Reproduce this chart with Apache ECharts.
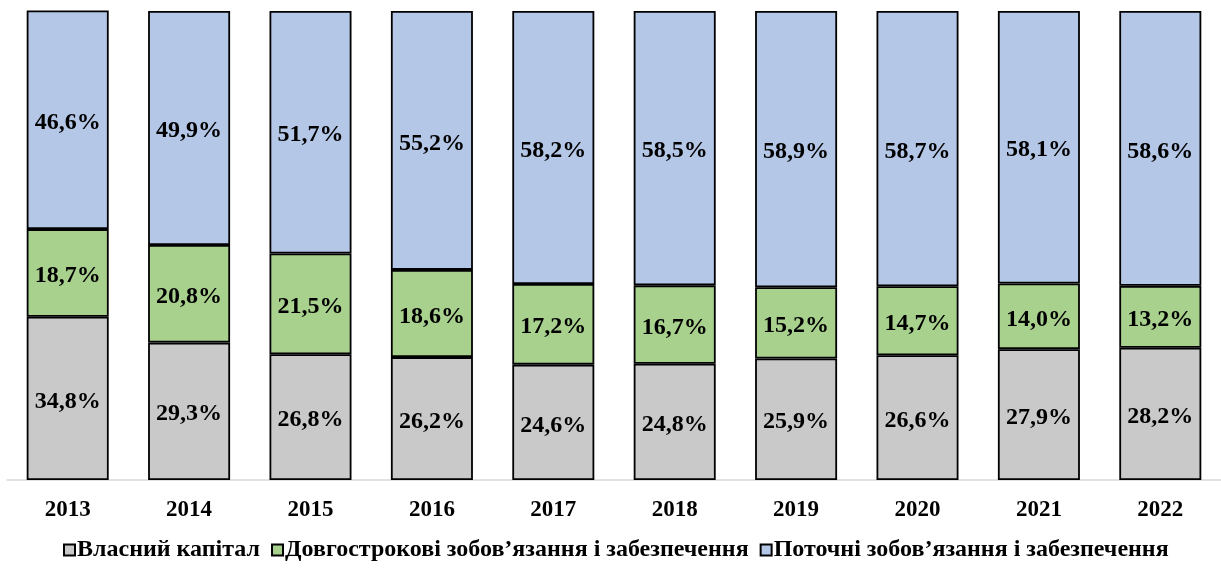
<!DOCTYPE html>
<html>
<head>
<meta charset="utf-8">
<script src="https://cdn.jsdelivr.net/npm/echarts@6/dist/echarts.min.js"></script>
<style>
  html, body { margin: 0; padding: 0; background: #fff; }
  #chart { width: 1221px; height: 573px; }
</style>
</head>
<body>
<div id="chart"></div>
<script>
var years = ['2013', '2014', '2015', '2016', '2017', '2018', '2019', '2020', '2021', '2022'];
var equity = [34.8, 29.3, 26.8, 26.2, 24.6, 24.8, 25.9, 26.6, 27.9, 28.2];
var longTerm = [18.7, 20.8, 21.5, 18.6, 17.2, 16.7, 15.2, 14.7, 14.0, 13.2];
var current = [46.6, 49.9, 51.7, 55.2, 58.2, 58.5, 58.9, 58.7, 58.1, 58.6];
var seriesNames = ['Власний капітал', 'Довгострокові зобов’язання і забезпечення', 'Поточні зобов’язання і забезпечення'];

var font = '"Liberation Serif", "Times New Roman", serif';

function makeSeries(name, data, color) {
  return {
    name: name,
    type: 'bar',
    stack: 'total',
    barWidth: 82,
    data: data,
    itemStyle: { color: color, borderColor: '#000', borderWidth: 1.8 },
    label: {
      show: true,
      position: 'inside',
      offset: [0, 3],
      color: '#000',
      fontFamily: font,
      fontWeight: 'bold',
      fontSize: 24,
      formatter: function (p) { return p.value.toFixed(1).replace('.', ',') + '%'; }
    }
  };
}

var myChart = echarts.init(document.getElementById('chart'));
var option = {
  animation: false,
  grid: { left: 7, top: 11, width: 1217, height: 469 },
  legend: {
    top: 533,
    left: 58,
    icon: 'rect',
    itemWidth: 11,
    itemHeight: 11,
    itemGap: 11,
    textStyle: { fontFamily: font, fontWeight: 'bold', fontSize: 24, color: '#000', padding: [0, 0, 0, -3] },
    data: seriesNames
  },
  xAxis: {
    type: 'category',
    data: years,
    axisLine: { lineStyle: { color: '#d9d9d9', width: 1.5 } },
    axisTick: { show: false },
    axisLabel: { color: '#000', fontFamily: font, fontWeight: 'bold', fontSize: 23, margin: 19 }
  },
  yAxis: {
    type: 'value',
    min: 0,
    max: 100,
    show: false,
    splitLine: { show: false }
  },
  series: [
    makeSeries(seriesNames[0], equity, '#c9c9c9'),
    makeSeries(seriesNames[1], longTerm, '#a9d18e'),
    makeSeries(seriesNames[2], current, '#b4c7e7')
  ]
};
myChart.setOption(option);
</script>
</body>
</html>
